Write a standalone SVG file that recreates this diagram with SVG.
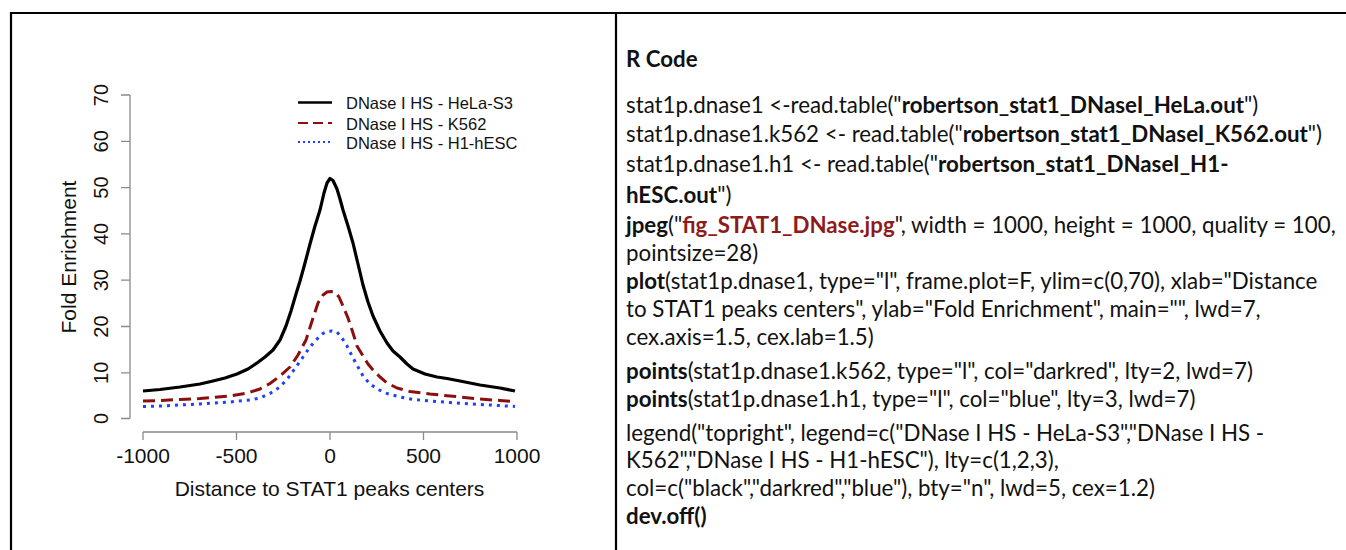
<svg xmlns="http://www.w3.org/2000/svg" width="1346" height="550" viewBox="0 0 1346 550">
<style>
.ax{stroke:#8a8a8a;stroke-width:1.3;fill:none}
.tl{font-family:"Liberation Sans",Arial,sans-serif;font-size:21px;fill:#111}
.yl{font-family:"Liberation Sans",Arial,sans-serif;font-size:20px;fill:#111}
.lg{font-family:"Liberation Sans",Arial,sans-serif;font-size:16.5px;fill:#111}
.code{font-family:Lato,"Open Sans",sans-serif;font-size:22.3px;fill:#111}
.b{font-weight:bold}
.dr{fill:#8e1b1b}
.c{fill:none;stroke-linejoin:round}
</style>
<rect width="1346" height="550" fill="#fff"/>
<g id="table">
<line x1="10" y1="13" x2="1346" y2="13" stroke="#000" stroke-width="2.2"/>
<line x1="11" y1="12" x2="11" y2="550" stroke="#000" stroke-width="2.2"/>
<line x1="616" y1="12" x2="616" y2="550" stroke="#000" stroke-width="2.2"/>
</g>
<g id="plot">
<g id="axes">
<path class="ax" d="M130 95 V418.5 M121 95 H130 M121 141.3 H130 M121 187.6 H130 M121 233.9 H130 M121 280.2 H130 M121 326.5 H130 M121 372.8 H130 M121 418.5 H130"/>
<path class="ax" d="M143 432 H517 M143 432 V440 M236.5 432 V440 M330 432 V440 M423.5 432 V440 M517 432 V440"/>
<text class="yl" text-anchor="middle" transform="translate(108,418.5) rotate(-90)">0</text>
<text class="yl" text-anchor="middle" transform="translate(108,372.8) rotate(-90)">10</text>
<text class="yl" text-anchor="middle" transform="translate(108,326.5) rotate(-90)">20</text>
<text class="yl" text-anchor="middle" transform="translate(108,280.2) rotate(-90)">30</text>
<text class="yl" text-anchor="middle" transform="translate(108,233.9) rotate(-90)">40</text>
<text class="yl" text-anchor="middle" transform="translate(108,187.6) rotate(-90)">50</text>
<text class="yl" text-anchor="middle" transform="translate(108,141.3) rotate(-90)">60</text>
<text class="yl" text-anchor="middle" transform="translate(108,95) rotate(-90)">70</text>
<text class="tl" text-anchor="middle" x="143" y="462.5">-1000</text>
<text class="tl" text-anchor="middle" x="236.5" y="462.5">-500</text>
<text class="tl" text-anchor="middle" x="330" y="462.5">0</text>
<text class="tl" text-anchor="middle" x="423.5" y="462.5">500</text>
<text class="tl" text-anchor="middle" x="517" y="462.5">1000</text>
<text class="tl" text-anchor="middle" x="329.5" y="496">Distance to STAT1 peaks centers</text>
<text class="tl" text-anchor="middle" transform="translate(76,257) rotate(-90)">Fold Enrichment</text>
</g>
<g id="curves">
<polyline class="c" stroke="#000" stroke-width="3.2" points="143,391 160,389.5 180,387 200,384 213,381 225,378 237,374 248,369 257,363 265,357 273,350 280,340 286,326 291,311 296,294 300,281 305,263 310,244 315,226 320,210 324,193 327,183 330,178.5 333,180.5 337,189 340,199 343,210 348,226 353,243 358,264 363,285 368,302 373,316 380,331 387,343 393,351 400,357 407,364 413,369 425,374 437,377 447,378.5 460,381 480,385 500,388 515,391"/>
<polyline class="c" stroke="#8b0f0f" stroke-width="3" stroke-dasharray="12 6" points="143,401 160,400.5 180,399.5 200,398.5 213,397.5 230,396 247,393 260,389 270,383.5 280,376 290,367 298,355 306,340 313,318 318,303 323,295 327,292 331,291.5 335,292 339,297 343,306 348,318 353,333 357,346 363,356 368,364 373,370 380,377 387,383 397,388 410,391.5 430,394 450,396 480,399 500,400.5 515,401.5"/>
<polyline class="c" stroke="#1f3fff" stroke-width="3" stroke-dasharray="3 5" points="143,406.5 160,406 180,405 200,404 230,402 250,400 260,398 270,393.5 280,387 288,378 296,367 303,357 310,347 316,340 322,334 327,331.5 332,331 337,332 342,338 347,346 352,356 358,367 363,376 370,384 378,389.5 387,393.5 400,397 413,399.5 430,401 450,402.5 463,403.5 490,405 515,406.5"/>
</g>
<g id="legend">
<line x1="298" y1="102.5" x2="332" y2="102.5" stroke="#000" stroke-width="2.6"/>
<line x1="298" y1="123" x2="332" y2="123" stroke="#8b0f0f" stroke-width="2" stroke-dasharray="10 5"/>
<line x1="298" y1="142" x2="332" y2="142" stroke="#1f3fff" stroke-width="2" stroke-dasharray="2 3"/>
<text class="lg" x="346" y="109">DNase I HS - HeLa-S3</text>
<text class="lg" x="346" y="129.5">DNase I HS - K562</text>
<text class="lg" x="346" y="149">DNase I HS - H1-hESC</text>
</g>
</g>
<g id="code">
<text class="code b" x="626" y="67">R Code</text>
<text class="code" x="626" y="113">stat1p.dnase1 &lt;-read.table("<tspan class="b">robertson_stat1_DNaseI_HeLa.out</tspan>")</text>
<text class="code" x="626" y="142">stat1p.dnase1.k562 &lt;- read.table("<tspan class="b">robertson_stat1_DNaseI_K562.out</tspan>")</text>
<text class="code" x="626" y="172">stat1p.dnase1.h1 &lt;- read.table("<tspan class="b">robertson_stat1_DNaseI_H1-</tspan></text>
<text class="code" x="626" y="203"><tspan class="b">hESC.out</tspan>")</text>
<text class="code" x="626" y="233"><tspan class="b">jpeg</tspan>("<tspan class="b dr">fig_STAT1_DNase.jpg</tspan>", width = 1000, height = 1000, quality = 100,</text>
<text class="code" x="626" y="261">pointsize=28)</text>
<text class="code" x="626" y="289"><tspan class="b">plot</tspan>(stat1p.dnase1, type="l", frame.plot=F, ylim=c(0,70), xlab="Distance</text>
<text class="code" x="626" y="317">to STAT1 peaks centers", ylab="Fold Enrichment", main="", lwd=7,</text>
<text class="code" x="626" y="345">cex.axis=1.5, cex.lab=1.5)</text>
<text class="code" x="626" y="379"><tspan class="b">points</tspan>(stat1p.dnase1.k562, type="l", col="darkred", lty=2, lwd=7)</text>
<text class="code" x="626" y="407"><tspan class="b">points</tspan>(stat1p.dnase1.h1, type="l", col="blue", lty=3, lwd=7)</text>
<text class="code" x="626" y="441">legend("topright", legend=c("DNase I HS - HeLa-S3","DNase I HS -</text>
<text class="code" x="626" y="468">K562","DNase I HS - H1-hESC"), lty=c(1,2,3),</text>
<text class="code" x="626" y="496">col=c("black","darkred","blue"), bty="n", lwd=5, cex=1.2)</text>
<text class="code b" x="626" y="524">dev.off()</text>
</g>
</svg>
